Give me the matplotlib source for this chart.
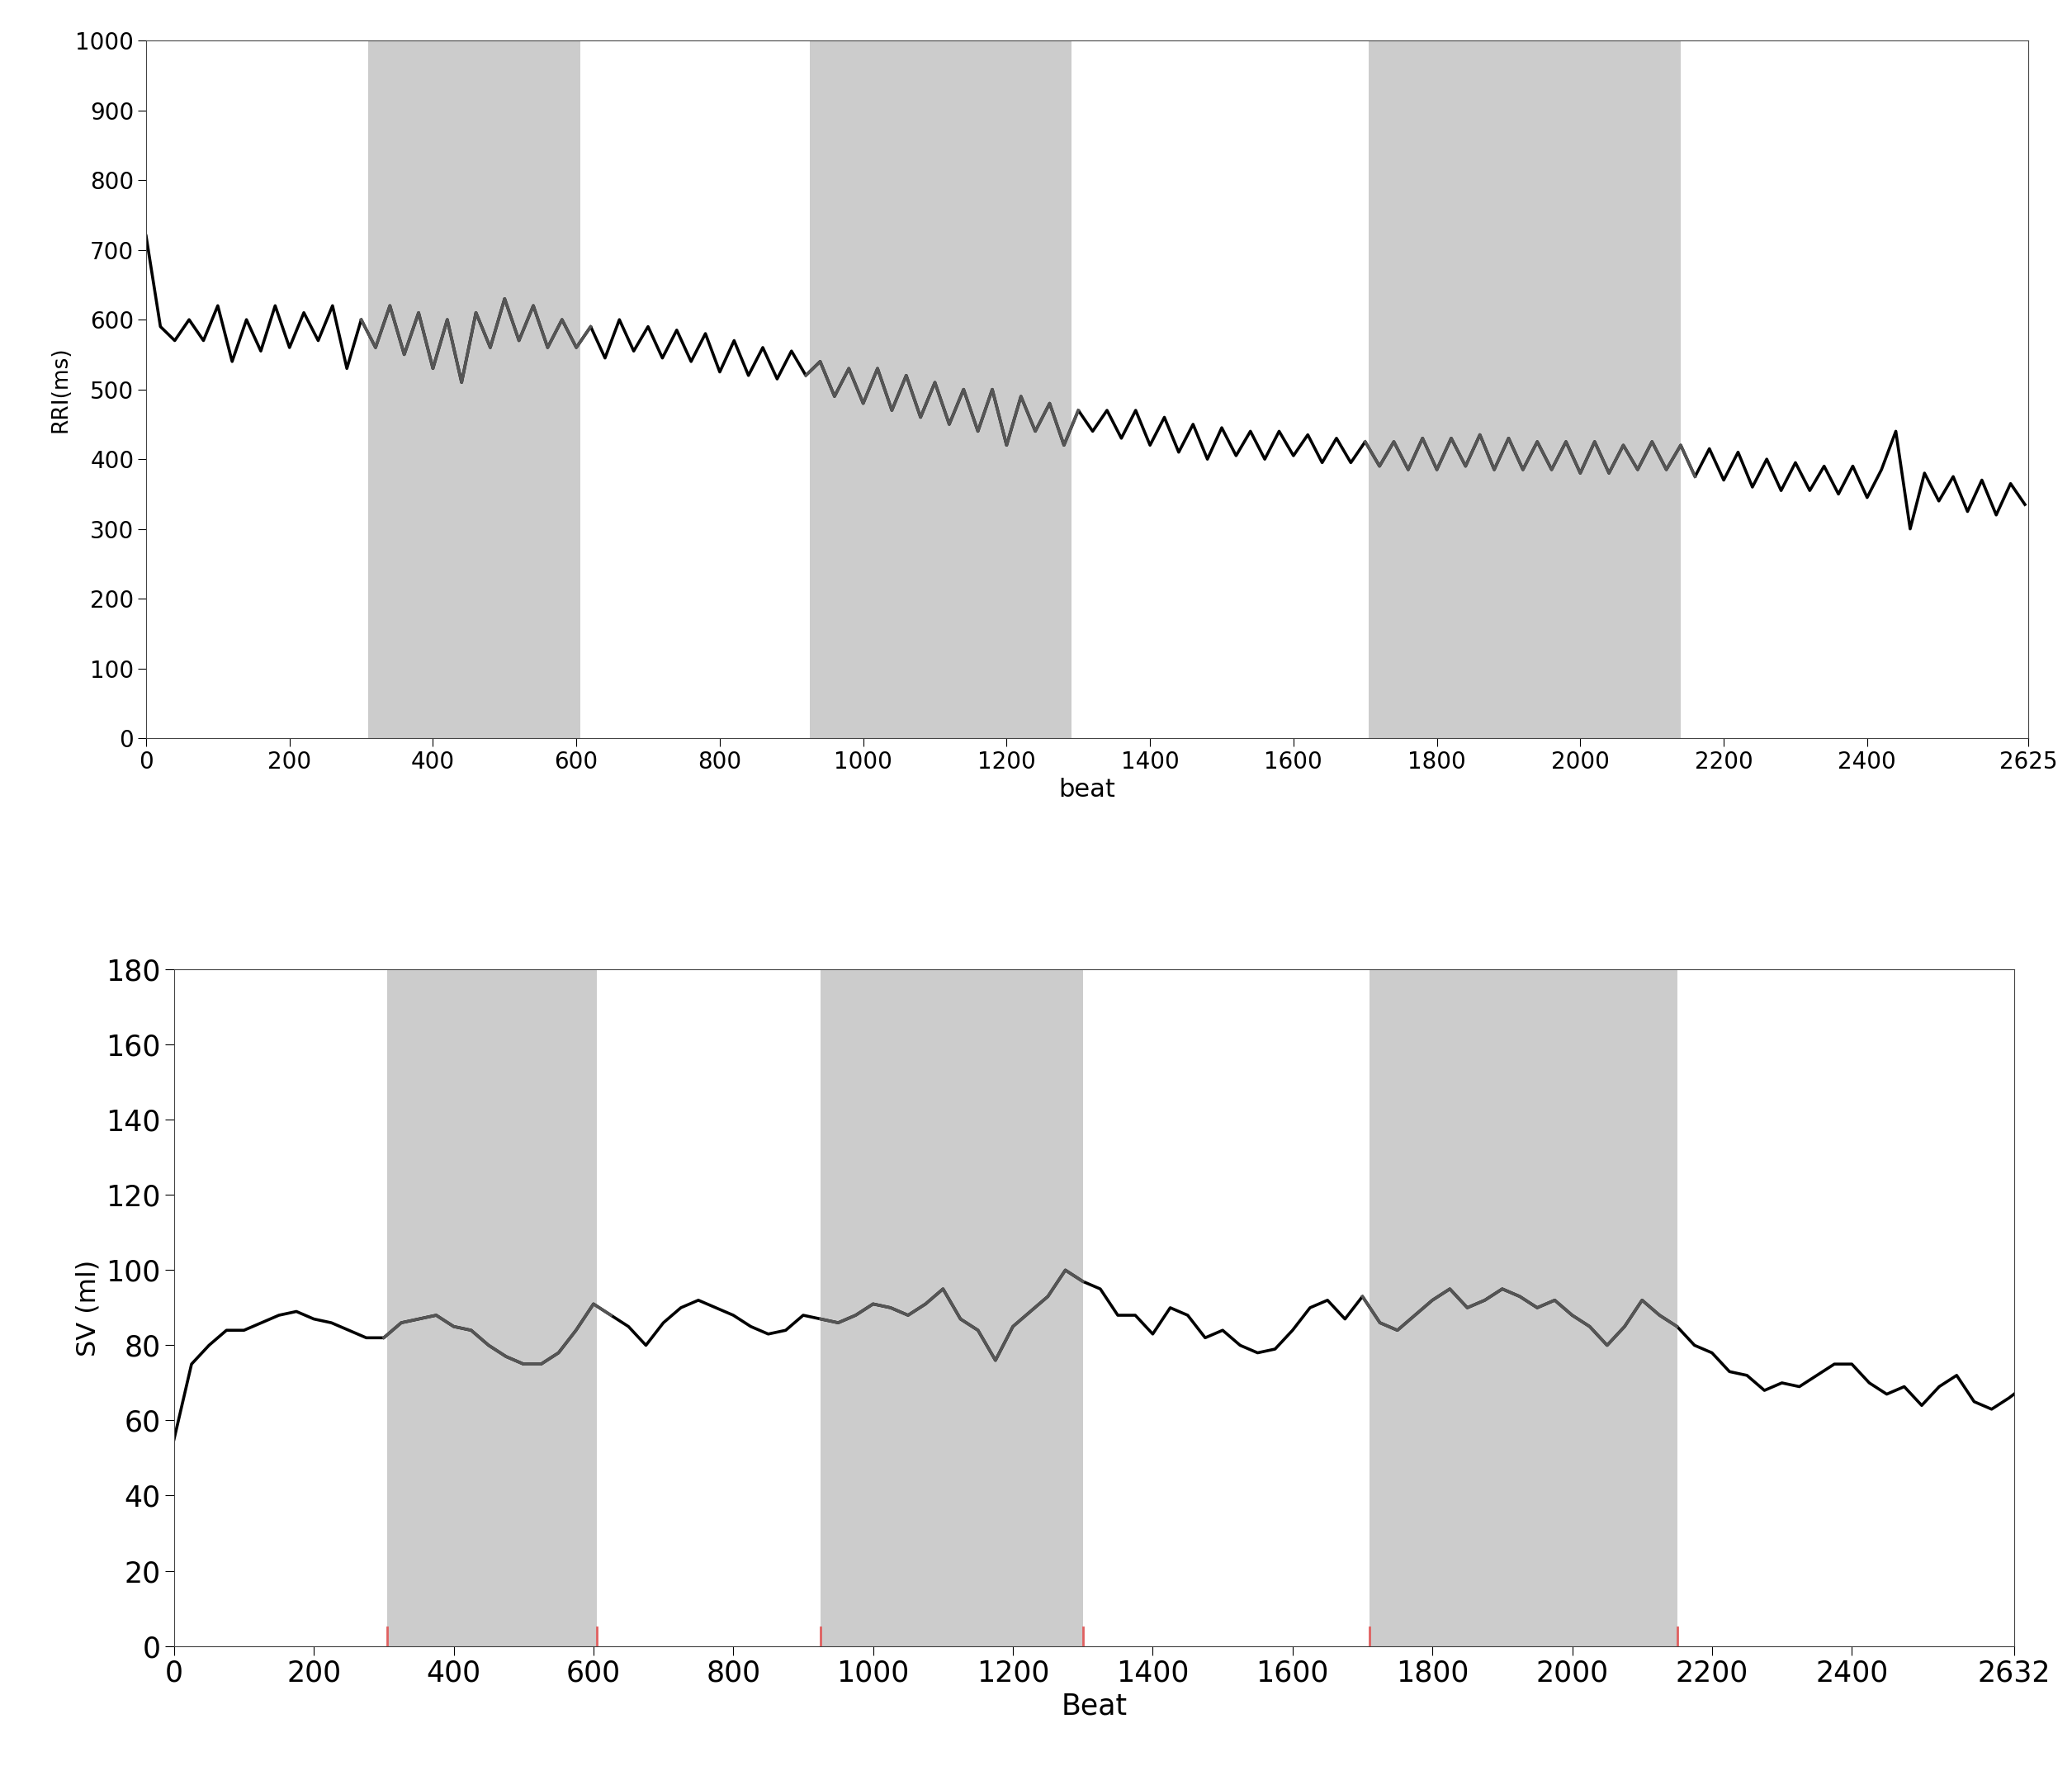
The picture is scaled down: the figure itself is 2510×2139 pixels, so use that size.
import numpy as np
import matplotlib.pyplot as plt

# RRI trace, read every 20 beats (zigzag following the visible noise band)
rri_beat = list(range(0, 2640, 20))
rri_ms = [720, 590, 570, 600, 570, 620, 540, 600, 555, 620, 560, 610, 570, 620, 530, 600,
          560, 620, 550, 610, 530, 600, 510, 610, 560, 630, 570, 620, 560, 600, 560, 590,
          545, 600, 555, 590, 545, 585, 540, 580, 525, 570, 520, 560, 515, 555, 520, 540,
          490, 530, 480, 530, 470, 520, 460, 510, 450, 500, 440, 500, 420, 490, 440, 480,
          420, 470, 440, 470, 430, 470, 420, 460, 410, 450, 400, 445, 405, 440, 400, 440,
          405, 435, 395, 430, 395, 425, 390, 425, 385, 430, 385, 430, 390, 435, 385, 430,
          385, 425, 385, 425, 380, 425, 380, 420, 385, 425, 385, 420, 375, 415, 370, 410,
          360, 400, 355, 395, 355, 390, 350, 390, 345, 385, 440, 300, 380, 340, 375, 325,
          370, 320, 365, 335]

# SV trace, read every 25 beats
sv_beat = list(range(0, 2626, 25)) + [2632]
sv_ml = [55, 75, 80, 84, 84, 86, 88, 89, 87, 86, 84, 82, 82, 86, 87, 88, 85, 84, 80, 77,
         75, 75, 78, 84, 91, 88, 85, 80, 86, 90, 92, 90, 88, 85, 83, 84, 88, 87, 86, 88,
         91, 90, 88, 91, 95, 87, 84, 76, 85, 89, 93, 100, 97, 95, 88, 88, 83, 90, 88, 82,
         84, 80, 78, 79, 84, 90, 92, 87, 93, 86, 84, 88, 92, 95, 90, 92, 95, 93, 90, 92,
         88, 85, 80, 85, 92, 88, 85, 80, 78, 73, 72, 68, 70, 69, 72, 75, 75, 70, 67, 69,
         64, 69, 72, 65, 63, 66, 67]

rri_bands = [(310, 605), (925, 1290), (1705, 2140)]
sv_bands = [(305, 605), (925, 1300), (1710, 2150)]


def draw(ax, x, y, bands, xmax):
    x = np.array(x)
    y = np.array(y, dtype=float)
    for a, b in bands:
        ax.axvspan(a, b, color='#cccccc', lw=0, zorder=0)
    ax.plot(x, y, color='black', lw=2.6, zorder=2)
    for a, b in bands:
        m = (x >= a - 20) & (x <= b + 20)
        ax.plot(x[m], y[m], color='#555555', lw=2.6, zorder=3)
        ax.set_xlim(0, xmax)
    ax.set_xlim(0, xmax)


fig = plt.figure(figsize=(25.1, 21.39), dpi=100)

ax1 = fig.add_axes([0.0705, 0.582, 0.9085, 0.395])
draw(ax1, rri_beat, rri_ms, rri_bands, 2625)
ax1.set_ylim(0, 1000)
ax1.set_yticks(range(0, 1001, 100))
ax1.set_xticks(list(range(0, 2401, 200)) + [2625])
ax1.tick_params(labelsize=20, length=7)
ax1.set_ylabel('RRI(ms)', fontsize=19)
ax1.set_xlabel('beat', fontsize=22)

ax2 = fig.add_axes([0.084, 0.068, 0.888, 0.383])
draw(ax2, sv_beat, sv_ml, sv_bands, 2632)
ax2.set_ylim(0, 180)
ax2.set_yticks(range(0, 181, 20))
ax2.set_xticks(list(range(0, 2401, 200)) + [2632])
ax2.tick_params(labelsize=25, length=8)
ax2.set_ylabel('SV (ml)', fontsize=23)
ax2.set_xlabel('Beat', fontsize=25)
for a, b in sv_bands:
    for v in (a, b):
        ax2.plot([v, v], [0, 5], color='#e06060', lw=2, zorder=4)

for ax in (ax1, ax2):
    for s in ax.spines.values():
        s.set_color('#444444')

fig.savefig('out.png', dpi=100)
